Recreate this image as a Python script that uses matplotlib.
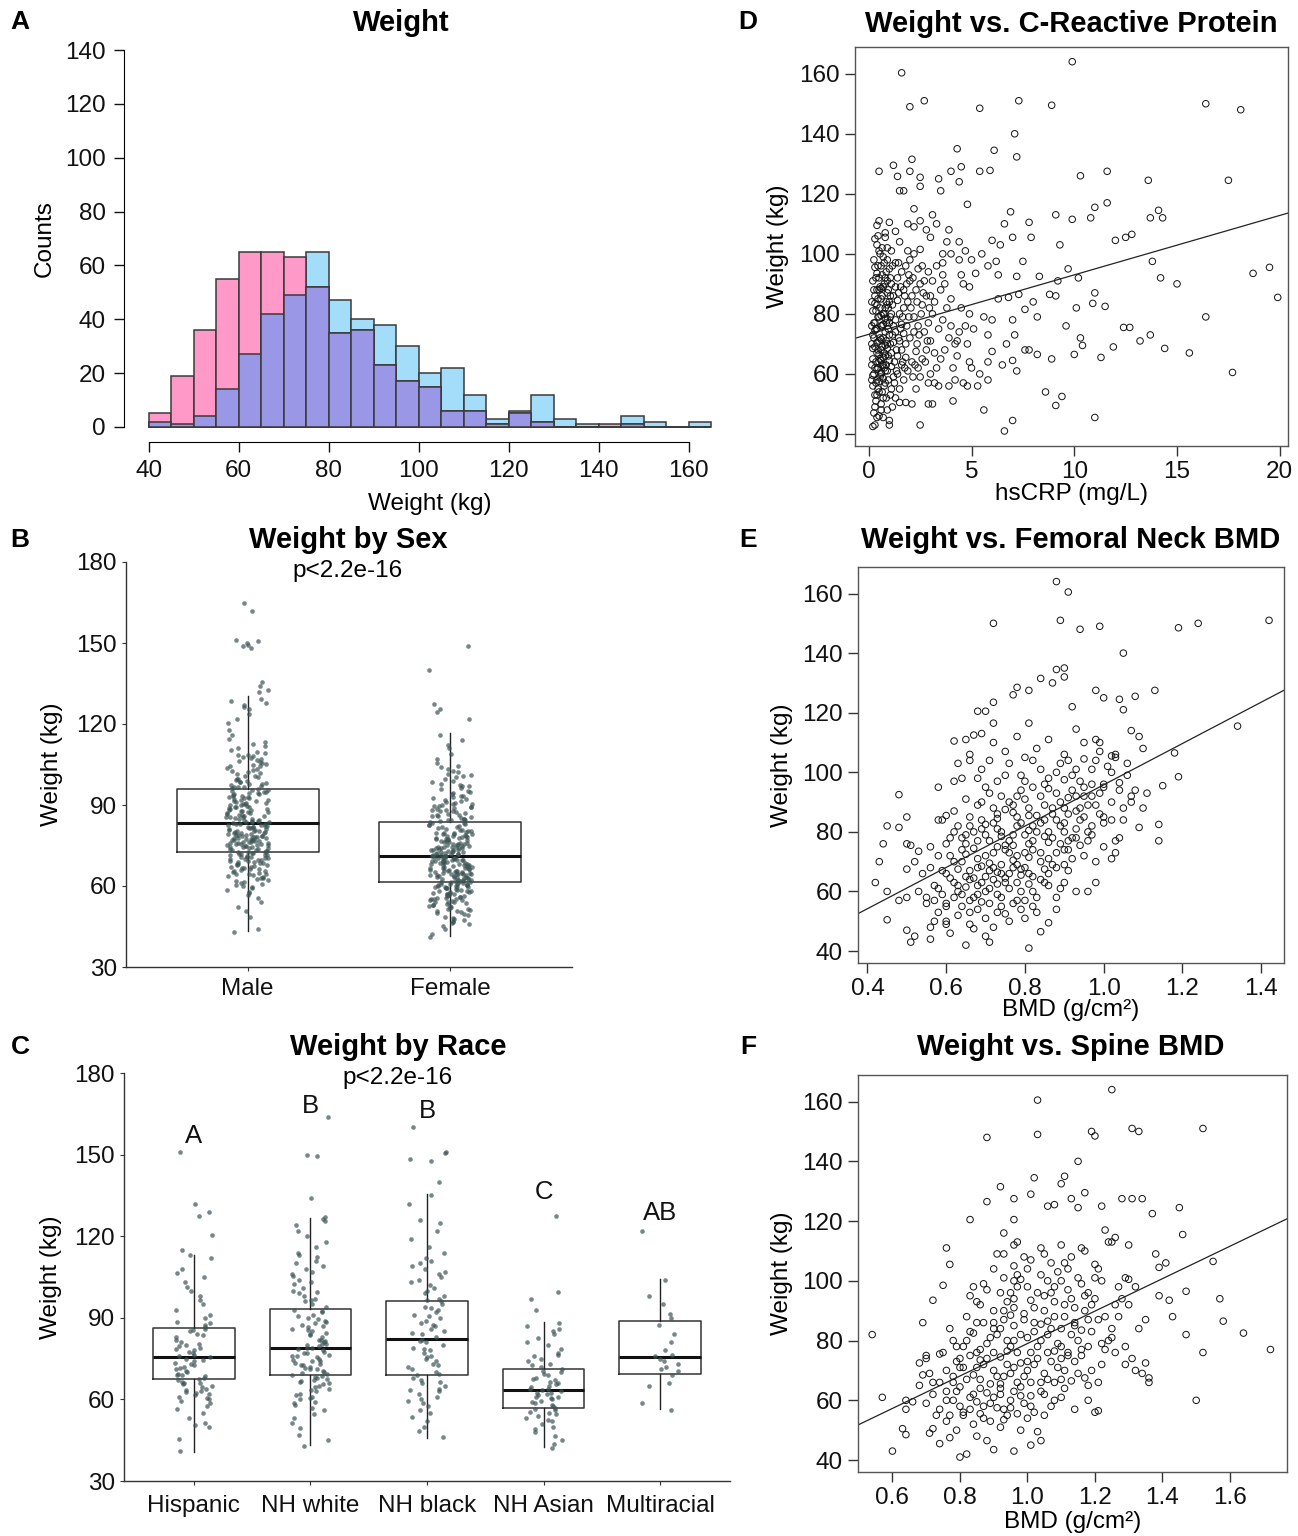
import numpy as np
import matplotlib
matplotlib.use("Agg")
import matplotlib.pyplot as plt

plt.rcParams['font.family'] = ['Liberation Sans', 'DejaVu Sans']

# ---------------- DATA ----------------
hist_edges = list(range(40, 170, 5))
female_counts = [5, 19, 36, 55, 65, 65, 63, 52, 35, 36, 23, 17, 15, 6, 6, 1, 5, 2, 0, 0, 1, 1, 0, 0, 0]
male_counts = [2, 1, 4, 14, 27, 42, 49, 65, 47, 40, 38, 30, 20, 22, 12, 3, 6, 12, 3, 1, 0, 4, 2, 0, 2]

sex_labels = ['Male', 'Female']
sex_q1 = [72.6, 61.6]
sex_med = [83.5, 71.0]
sex_q3 = [96.0, 83.8]
sex_wlo = [43.3, 41.4]
sex_whi = [130.5, 116.5]

male_weight = [
    43.0, 44.1, 48.6, 50.8, 52.4, 54.1, 55.4, 56.6, 57.3, 57.9, 58.5, 59.1, 59.7,
    60.1, 60.6, 61.0, 61.5, 61.9, 62.3, 62.6, 63.0, 63.4, 63.7, 64.0, 64.3, 64.6, 64.9,
    65.2, 65.4, 65.7, 65.9, 66.2, 66.5, 66.7, 67.0, 67.2, 67.5, 67.7, 68.0, 68.2, 68.4,
    68.7, 68.9, 69.1, 69.3, 69.5, 69.7, 69.9,
    70.1, 70.3, 70.5, 70.7, 70.9, 71.1, 71.3, 71.5, 71.7, 71.9, 72.1, 72.3, 72.5, 72.7,
    72.9, 73.1, 73.3, 73.5, 73.7, 73.9, 74.1, 74.3, 74.5, 74.7, 74.9,
    75.1, 75.2, 75.4, 75.5, 75.7, 75.8, 76.0, 76.1, 76.3, 76.4, 76.6, 76.7, 76.9, 77.0,
    77.2, 77.3, 77.5, 77.6, 77.8, 77.9, 78.1, 78.2, 78.4, 78.5, 78.7, 78.8, 79.0, 79.1,
    79.3, 79.5, 79.7, 79.9,
    80.1, 80.3, 80.5, 80.7, 80.9, 81.1, 81.3, 81.5, 81.7, 81.9, 82.1, 82.3, 82.5, 82.7,
    82.9, 83.1, 83.4, 83.6, 83.8, 84.0, 84.2, 84.5, 84.7, 84.9,
    85.1, 85.4, 85.6, 85.9, 86.1, 86.4, 86.6, 86.9, 87.1, 87.4, 87.6, 87.9, 88.1, 88.4,
    88.6, 88.9, 89.1, 89.4, 89.6, 89.9,
    90.1, 90.4, 90.7, 90.9, 91.2, 91.5, 91.7, 92.0, 92.3, 92.6, 92.9, 93.1, 93.4, 93.7,
    93.9, 94.2, 94.5, 94.7, 94.9,
    95.2, 95.5, 95.8, 96.2, 96.5, 96.8, 97.2, 97.5, 97.8, 98.2, 98.5, 98.8, 99.2, 99.5, 99.8,
    100.3, 100.8, 101.3, 101.8, 102.3, 102.8, 103.3, 103.8, 104.3, 104.8,
    105.2, 105.6, 106.1, 106.5, 106.9, 107.4, 107.8, 108.2, 108.7, 109.1, 109.6,
    110.4, 111.2, 111.9, 112.7, 113.5, 114.3, 116.0, 117.8, 120.5, 121.8, 123.6,
    125.5, 126.3, 127.0, 127.8, 128.6, 129.4, 131.8, 132.6, 134.0, 135.5,
    148.0, 148.8, 149.4, 149.9, 150.6, 151.2, 161.8, 165.0,
    60.4, 62.8, 64.4, 66.3, 67.8, 69.0, 70.6, 71.6, 72.6, 73.6, 74.6, 75.3, 76.2, 77.1,
    78.0, 78.9, 79.6, 80.4, 81.2, 82.0, 82.8, 83.7, 84.6, 85.5, 86.3, 87.3, 88.3, 89.3,
    90.5, 91.4, 92.5, 93.5, 94.4, 95.7, 96.7, 97.7, 98.7, 100.6, 102.6, 104.6, 106.3, 108.5,
]

female_weight = [
    41.0, 42.3, 44.0,
    45.3, 45.8, 46.3, 46.8, 47.2, 47.7, 48.2, 48.6, 49.1, 49.6,
    50.1, 50.4, 50.7, 51.0, 51.3, 51.6, 51.9, 52.2, 52.5, 52.8, 53.1, 53.4, 53.7, 54.0,
    54.2, 54.5, 54.7, 54.9,
    55.1, 55.3, 55.5, 55.7, 55.9, 56.1, 56.3, 56.5, 56.7, 56.9, 57.1, 57.3, 57.5, 57.7,
    57.9, 58.1, 58.3, 58.5, 58.7, 58.9, 59.1, 59.3, 59.5, 59.6, 59.7, 59.8, 59.9,
    60.1, 60.2, 60.4, 60.5, 60.7, 60.8, 61.0, 61.2, 61.4, 61.5, 61.7, 61.9, 62.0, 62.2,
    62.4, 62.5, 62.7, 62.9, 63.0, 63.2, 63.4, 63.5, 63.7, 63.9, 64.0, 64.2, 64.3, 64.4,
    64.5, 64.6, 64.7, 64.8, 64.9,
    65.1, 65.2, 65.4, 65.5, 65.7, 65.8, 66.0, 66.2, 66.4, 66.5, 66.7, 66.9, 67.0, 67.2,
    67.4, 67.5, 67.7, 67.9, 68.0, 68.2, 68.4, 68.5, 68.7, 68.9, 69.0, 69.2, 69.3, 69.4,
    69.5, 69.6, 69.7, 69.8, 69.9,
    70.1, 70.2, 70.4, 70.5, 70.7, 70.8, 71.0, 71.2, 71.4, 71.5, 71.7, 71.9, 72.0, 72.2,
    72.4, 72.5, 72.7, 72.9, 73.0, 73.2, 73.4, 73.5, 73.7, 73.9, 74.0, 74.2, 74.3, 74.4,
    74.5, 74.6, 74.7, 74.9,
    75.1, 75.3, 75.5, 75.7, 75.9, 76.1, 76.3, 76.5, 76.7, 76.9, 77.1, 77.3, 77.5, 77.7,
    77.9, 78.1, 78.3, 78.5, 78.7, 78.9, 79.1, 79.3, 79.5, 79.7, 79.8, 79.9,
    80.2, 80.5, 80.8, 81.1, 81.4, 81.7, 82.0, 82.3, 82.6, 82.9, 83.2, 83.5, 83.8, 84.1,
    84.3, 84.5, 84.7, 84.9,
    85.2, 85.5, 85.8, 86.1, 86.4, 86.7, 87.0, 87.3, 87.6, 87.9, 88.2, 88.5, 88.8, 89.1,
    89.3, 89.5, 89.7, 89.9,
    90.3, 90.7, 91.1, 91.5, 91.9, 92.3, 92.7, 93.1, 93.5, 93.9, 94.3, 94.7,
    95.3, 95.8, 96.4, 96.9, 97.4, 97.9, 98.5, 99.0, 99.6,
    100.3, 100.9, 101.5, 102.1, 102.7, 103.3, 103.9, 104.5,
    105.6, 107.2, 108.9, 111.0, 112.4, 114.2, 116.0,
    122.0, 124.6, 125.4, 127.5, 140.0, 149.0,
    47.5, 50.9, 52.6, 53.9, 55.2, 56.2, 57.2, 58.2, 59.2, 60.3, 60.9, 61.6, 62.3, 63.1,
    63.8, 64.6, 65.3, 66.1, 66.8, 67.6, 68.3, 69.1, 70.3, 71.1, 71.8, 72.6, 73.3, 74.1,
    75.4, 76.4, 77.4, 78.4, 79.4, 80.7, 82.5, 84.4, 86.2, 88.0, 90.5, 93.3, 97.2, 101.2,
]

race_labels = ['Hispanic', 'NH white', 'NH black', 'NH Asian', 'Multiracial']
race_q1 = [67.4, 69.1, 69.1, 57.0, 69.4]
race_med = [75.6, 79.0, 82.2, 63.4, 75.7]
race_q3 = [86.2, 93.4, 96.0, 71.2, 88.8]
race_wlo = [40.8, 43.2, 45.9, 42.5, 56.3]
race_whi = [113.2, 126.8, 135.4, 88.4, 104.2]
race_letters = ['A', 'B', 'B', 'C', 'AB']
race_letter_y = [156.8, 167.8, 166.0, 136.4, 128.5]

hispanic_weight = [
    41.0, 45.5, 50.0, 50.5, 51.5, 53.0, 55.0, 56.5, 57.5, 58.5, 59.5, 60.0, 61.0, 61.5,
    62.0, 62.5, 63.0, 64.0, 64.5, 65.0, 65.5, 66.0, 66.5, 67.0, 67.5, 68.0, 68.5, 69.0,
    70.0, 70.5, 71.0, 72.0, 72.5, 73.0, 74.0, 74.5, 75.0, 75.5, 76.0, 77.0, 77.5, 78.0,
    79.0, 79.5, 80.0, 81.0, 82.0, 83.0, 84.0, 85.0, 86.0, 86.5, 87.5, 88.5, 90.0, 91.0,
    93.0, 95.0, 96.5, 98.0, 100.0, 101.5, 103.0, 105.0, 106.5, 108.0, 112.0, 113.0,
    115.0, 120.5, 127.5, 129.0, 132.0, 151.0,
    60.5, 63.5, 66.2, 68.8, 71.5, 73.5, 76.5, 78.5, 80.5, 83.5, 85.5, 88.0, 62.8, 69.5,
]
nhwhite_weight = [
    43.0, 45.0, 47.0, 49.5, 51.5, 53.0, 54.5, 56.0, 57.0, 58.0, 59.0, 60.0, 60.5, 61.5,
    62.0, 63.0, 63.5, 64.0, 65.0, 65.5, 66.0, 66.5, 67.0, 67.5, 68.0, 68.5, 69.0, 69.5,
    70.0, 70.5, 71.0, 71.5, 72.0, 72.5, 73.0, 73.5, 74.0, 74.5, 75.0, 75.5, 76.0, 76.5,
    77.0, 77.5, 78.0, 78.5, 79.0, 79.5, 80.0, 80.5, 81.0, 81.5, 82.0, 83.0, 83.5, 84.0,
    85.0, 85.5, 86.0, 87.0, 87.5, 88.0, 89.0, 89.5, 90.0, 91.0, 92.0, 93.0, 94.0, 95.0,
    96.0, 97.0, 98.0, 99.0, 100.0, 101.0, 102.5, 104.0, 105.5, 107.0, 108.0, 110.0,
    111.0, 112.5, 114.0, 116.0, 118.0, 120.0, 122.0, 124.0, 125.5, 126.5, 127.0,
    134.0, 149.5, 150.0, 164.0,
    58.5, 61.0, 64.5, 66.8, 68.2, 69.8, 71.2, 72.8, 74.2, 75.8, 77.2, 78.8, 80.2, 81.8,
    84.5, 86.5, 88.5, 90.5, 92.5, 96.5, 99.5, 103.0, 106.0, 109.0, 113.0,
]
nhblack_weight = [
    46.0, 48.5, 50.0, 52.0, 53.5, 55.0, 56.0, 57.5, 58.5, 60.0, 61.0, 62.0, 63.0, 64.0,
    65.0, 66.0, 67.0, 68.0, 69.0, 70.0, 71.0, 72.0, 73.0, 74.0, 75.0, 76.0, 77.0, 78.0,
    79.0, 80.0, 81.0, 82.0, 83.0, 84.0, 85.0, 86.0, 87.0, 88.0, 89.0, 90.0, 91.0, 92.0,
    93.0, 94.0, 95.0, 96.0, 97.0, 98.0, 100.0, 101.0, 103.0, 104.0, 106.0, 107.0, 109.0,
    110.0, 112.0, 114.0, 116.0, 119.0, 122.0, 125.0, 126.0, 132.0, 135.0, 140.0, 147.5,
    148.5, 150.5, 151.0, 160.0,
    59.5, 63.5, 66.5, 69.5, 72.5, 75.5, 78.5, 81.5, 84.5, 87.5, 90.5, 93.5, 96.5, 99.0,
    102.0, 105.0, 108.0, 111.0,
]
nhasian_weight = [
    42.0, 43.5, 45.0, 46.5, 48.0, 49.0, 50.0, 51.0, 52.0, 53.0, 54.0, 54.5, 55.0, 56.0,
    56.5, 57.0, 57.5, 58.0, 59.0, 59.5, 60.0, 60.5, 61.0, 61.5, 62.0, 62.5, 63.0, 63.5,
    64.0, 64.5, 65.0, 66.0, 66.5, 67.0, 68.0, 69.0, 70.0, 70.5, 71.0, 72.0, 73.0, 74.0,
    75.0, 76.0, 77.0, 78.5, 80.0, 81.0, 82.5, 84.0, 85.0, 86.0, 87.0, 88.0, 93.0, 97.0,
    99.5, 127.5,
    52.5, 55.5, 58.5, 60.8, 62.2, 63.8, 65.5, 67.5, 69.5, 72.5, 76.5,
]
multiracial_weight = [
    56.0, 58.5, 65.0, 66.0, 69.0, 70.5, 71.0, 72.0, 73.0, 74.0, 75.0, 76.0, 76.5, 78.0,
    81.0, 84.0, 87.5, 90.0, 91.5, 95.0, 98.0, 104.0, 122.0,
]

crp_weight = [
    (1.6, 160.3), (9.9, 164.0), (2.0, 149.0), (2.7, 151.0), (5.4, 148.5), (7.3, 151.0),
    (8.9, 149.5), (16.4, 150.0), (18.1, 148.0), (7.1, 140.0), (7.2, 132.3), (4.3, 135.0),
    (2.1, 131.5), (6.1, 134.5), (1.2, 129.5), (0.5, 127.5), (1.4, 125.8), (2.0, 127.5),
    (2.5, 125.5), (3.4, 125.0), (4.0, 127.5), (4.5, 129.0), (5.4, 127.5), (5.9, 127.8),
    (10.3, 126.0), (11.6, 127.5), (13.6, 124.5), (17.5, 124.5), (1.5, 121.0), (1.7, 121.0),
    (2.5, 122.5), (3.5, 121.0), (4.4, 124.0), (4.8, 116.5), (6.9, 114.0), (9.1, 113.0),
    (9.9, 111.5), (10.8, 112.0), (11.0, 115.5), (11.6, 117.0), (13.7, 112.0), (14.1, 114.5),
    (14.3, 112.0), (12.0, 104.5), (12.5, 105.5), (12.8, 106.5), (13.8, 97.5), (14.2, 92.0),
    (15.0, 90.0), (18.7, 93.5), (19.5, 95.5), (19.9, 85.5), (16.4, 79.0), (17.7, 60.5),
    (15.6, 67.0), (14.4, 68.5), (13.7, 73.0), (13.2, 71.0), (12.7, 75.5), (12.4, 75.5),
    (11.9, 69.0), (11.3, 65.5), (11.5, 82.5), (11.0, 87.0), (10.9, 83.5), (10.1, 82.0),
    (10.2, 92.0), (9.7, 95.0), (9.3, 103.0), (9.2, 91.0), (9.6, 76.0), (10.4, 69.5),
    (10.0, 66.5), (10.3, 72.0), (9.1, 86.0), (8.8, 86.5), (8.9, 65.0), (8.6, 54.0),
    (9.1, 49.5), (9.4, 52.5), (11.0, 45.5), (7.0, 44.5), (6.6, 41.0), (5.6, 48.0),
    (2.5, 43.0), (8.2, 79.0), (8.3, 92.5), (7.9, 105.5), (7.8, 110.5), (7.5, 97.5),
    (7.0, 105.5), (6.6, 110.0), (7.2, 92.5), (7.6, 81.5), (8.0, 84.0), (7.0, 78.0),
    (7.3, 86.5), (7.1, 73.0), (6.8, 85.5), (6.7, 70.0), (6.5, 63.0), (7.0, 64.5),
    (7.2, 61.0), (7.6, 68.0), (7.8, 68.0), (8.2, 66.5), (6.0, 67.5), (5.8, 64.0),
    (5.8, 58.0), (5.3, 56.0), (5.4, 60.0), (5.8, 73.0), (6.0, 78.0), (5.6, 79.0),
    (6.3, 85.0), (6.2, 97.5), (6.4, 103.0), (6.0, 104.5), (5.5, 100.0), (5.8, 96.0),
    (6.3, 93.0), (5.2, 93.5), (5.1, 75.0), (4.8, 56.0), (4.6, 57.0), (4.1, 51.0),
    (4.1, 62.0), (4.9, 64.0), (4.3, 71.0), (4.7, 76.0), (4.9, 80.0), (4.6, 90.0),
    (4.9, 89.0), (4.7, 101.0), (4.4, 104.0), (4.0, 100.0), (3.9, 108.0), (3.6, 97.0),
    (3.3, 96.0), (3.6, 93.0), (3.0, 105.5), (3.3, 110.0), (3.1, 113.0), (2.8, 108.0),
    (2.5, 111.0), (2.2, 109.0), (1.9, 110.0), (2.2, 115.0), (1.3, 107.5), (0.5, 111.0),
    (0.4, 109.5), (0.3, 105.0), (0.8, 107.0), (1.0, 110.5), (0.9, 102.0), (1.5, 104.0),
    (0.2, 42.5), (0.3, 43.0), (0.5, 46.0), (0.4, 45.5), (0.3, 49.0), (0.6, 50.0),
    (0.9, 48.0), (1.0, 43.0), (1.0, 44.5), (0.7, 52.0), (0.5, 54.0), (0.2, 56.0),
    (0.8, 57.0), (1.1, 55.0), (0.4, 58.0), (0.6, 60.0), (0.9, 61.0), (0.3, 62.0),
    (1.2, 59.0), (0.7, 63.0), (0.5, 64.0), (0.2, 65.0), (0.8, 66.0), (1.0, 64.5),
    (0.4, 67.0), (0.6, 68.0), (1.1, 67.0), (0.3, 69.0), (0.9, 70.0), (0.5, 71.0),
    (0.7, 72.0), (0.2, 73.0), (1.0, 73.0), (0.8, 74.0), (0.4, 75.0), (0.6, 76.0),
    (1.2, 76.0), (0.3, 77.0), (0.9, 78.0), (0.5, 79.0), (0.7, 80.0), (1.1, 80.0),
    (0.2, 81.0), (0.8, 82.0), (0.4, 83.0), (1.0, 84.0), (0.6, 85.0), (0.3, 86.0),
    (0.9, 87.0), (0.5, 88.0), (0.7, 89.0), (1.1, 90.0), (0.2, 91.0), (0.8, 92.0),
    (0.4, 93.5), (1.0, 95.0), (0.6, 96.0), (0.3, 95.5), (0.9, 98.0), (0.5, 101.0),
    (0.7, 99.0), (0.4, 103.0), (0.8, 105.5), (0.6, 60.5), (0.4, 61.5), (0.7, 65.5),
    (0.5, 66.5), (0.9, 68.5), (0.3, 74.5), (0.6, 71.5), (1.0, 77.0), (0.8, 61.0),
    (0.5, 57.5), (0.7, 58.5), (0.3, 53.0), (1.1, 62.5), (0.9, 83.0), (0.6, 88.5),
    (1.2, 86.0), (0.8, 69.5), (0.2, 59.5), (0.4, 70.5), (0.6, 79.5), (0.3, 83.5),
    (0.5, 92.0), (0.7, 76.5), (0.2, 68.5), (0.4, 88.0), (0.6, 64.5), (0.8, 78.5),
    (1.3, 52.0), (1.5, 55.0), (1.7, 58.0), (1.9, 61.0), (2.1, 64.0), (1.4, 66.0),
    (1.6, 68.0), (1.8, 70.0), (2.0, 72.0), (2.2, 74.0), (2.4, 76.0), (1.3, 78.0),
    (1.5, 80.0), (1.7, 82.0), (1.9, 84.0), (2.1, 86.0), (2.3, 88.0), (2.5, 90.0),
    (1.4, 92.0), (1.6, 94.0), (1.8, 96.0), (2.0, 98.0), (2.2, 100.0), (2.4, 62.0),
    (2.6, 65.0), (2.8, 68.0), (3.0, 71.0), (2.7, 74.0), (2.9, 77.0), (3.1, 80.0),
    (2.6, 83.0), (2.8, 86.0), (3.0, 60.0), (3.2, 57.0), (2.3, 55.0), (2.5, 59.0),
    (2.7, 91.0), (2.9, 94.0), (3.1, 50.0), (1.5, 50.5), (1.8, 50.5), (2.1, 50.0),
    (2.9, 50.0), (1.2, 70.5), (1.3, 74.0), (1.6, 76.5), (2.2, 79.0), (1.4, 84.5),
    (1.7, 88.0), (2.0, 91.0), (2.4, 95.0), (1.3, 97.0), (1.9, 101.0), (2.5, 101.5),
    (2.3, 67.5), (1.4, 60.0), (1.6, 63.0), (1.8, 65.5), (1.5, 71.0), (1.7, 73.5),
    (3.3, 62.0), (3.5, 65.0), (3.7, 68.0), (3.9, 72.0), (3.4, 75.0), (3.6, 78.0),
    (3.8, 82.0), (4.0, 85.0), (3.5, 88.0), (3.7, 90.0), (4.2, 70.0), (4.4, 74.0),
    (3.4, 56.0), (4.2, 58.0), (3.9, 56.0), (4.5, 82.0), (4.3, 66.0), (3.6, 100.0),
    (3.2, 84.0), (3.0, 86.0), (2.9, 57.0), (3.2, 67.0), (4.0, 76.0), (4.8, 70.0),
    (5.0, 62.0), (4.5, 93.0), (5.0, 98.0), (4.4, 98.0), (3.8, 104.0), (3.1, 91.0),
    (0.25, 47.0), (0.35, 51.0), (0.45, 55.0), (0.55, 59.0), (0.65, 63.0), (0.75, 67.0),
    (0.85, 71.0), (0.95, 75.0), (1.05, 79.0), (1.15, 83.0), (0.25, 60.0), (0.35, 64.0),
    (0.45, 68.0), (0.55, 72.0), (0.65, 76.0), (0.75, 80.0), (0.85, 84.0), (0.95, 88.0),
    (1.05, 92.0), (1.15, 96.0), (0.25, 77.0), (0.35, 81.0), (0.45, 85.0), (0.55, 89.0),
    (0.65, 93.0), (0.75, 97.0), (0.85, 63.0), (0.95, 58.0), (1.05, 53.0), (1.15, 49.0),
    (0.25, 88.0), (0.35, 92.0), (0.45, 96.0), (0.55, 100.0), (0.65, 54.0), (0.75, 56.0),
    (0.85, 52.0), (0.95, 66.0), (1.05, 70.0), (1.15, 73.0), (0.15, 63.0), (0.15, 70.0),
    (0.15, 76.0), (0.15, 84.0), (0.15, 58.0), (0.35, 57.0), (0.45, 62.0), (0.55, 65.0),
    (0.65, 69.0), (0.75, 62.0), (0.85, 77.0), (0.95, 82.0), (1.05, 86.0), (0.25, 72.0),
    (0.35, 75.0), (0.45, 79.0), (0.55, 82.0), (0.65, 86.0), (0.75, 90.0), (0.85, 94.0),
    (0.25, 98.0), (0.45, 106.0), (0.65, 102.0), (1.25, 64.0), (1.35, 68.0), (1.45, 72.0),
    (1.55, 75.0), (1.65, 79.0), (1.75, 86.0), (1.85, 90.0), (1.95, 93.0), (1.25, 57.0),
    (1.35, 61.0), (1.45, 87.0), (1.55, 89.0), (1.65, 64.0), (1.75, 62.0), (1.85, 76.0),
    (1.95, 79.0), (2.05, 82.0), (2.15, 59.0), (2.25, 63.0), (2.35, 70.0), (2.45, 73.0),
    (2.55, 80.0), (2.65, 87.0), (2.75, 64.0), (2.85, 71.0), (2.95, 82.0), (2.15, 92.0),
    (2.35, 84.0), (2.60, 96.0), (1.45, 97.0), (1.30, 89.0), (1.10, 101.0), (0.90, 91.0),
    (0.70, 45.5), (0.40, 53.0), (0.60, 48.0),
]
crp_fit = (73.2, 1.98)          # intercept, slope

fn_weight = [
    (0.88, 164.0), (0.91, 160.5), (0.72, 150.0), (0.89, 151.0), (0.94, 148.0), (0.99, 149.0),
    (1.19, 148.5), (1.24, 150.0), (1.42, 151.0), (1.05, 140.0), (0.90, 135.0), (0.88, 134.5),
    (0.90, 132.0), (0.84, 131.5), (0.78, 128.5), (0.87, 130.0), (0.81, 127.5), (0.77, 126.0),
    (0.72, 123.5), (0.98, 127.5), (1.13, 127.5), (1.08, 125.5), (1.00, 125.0), (1.04, 124.5),
    (0.92, 122.0), (0.68, 120.5), (0.70, 120.5), (1.05, 121.0), (0.72, 116.5), (0.81, 116.5),
    (1.34, 115.5), (1.07, 114.0), (1.09, 112.0), (0.93, 114.5), (1.18, 106.5), (1.19, 98.5),
    (1.15, 95.5), (1.14, 82.5), (1.14, 77.0), (1.11, 93.0), (1.10, 88.0), (1.09, 81.5),
    (1.10, 108.0), (0.93, 60.0), (0.96, 60.0), (0.86, 49.5), (0.84, 46.5), (0.81, 41.0),
    (0.71, 43.0), (0.65, 42.0), (0.70, 45.0), (0.56, 44.0), (0.51, 43.0), (0.52, 45.0),
    (0.50, 47.0), (0.45, 50.5), (0.42, 63.0), (0.43, 70.0), (0.44, 76.0), (0.45, 82.0),
    (0.48, 81.5), (0.48, 92.5), (0.50, 85.0), (0.50, 76.0), (0.51, 75.5), (0.53, 73.5),
    (0.52, 70.0), (0.50, 67.5), (0.50, 58.0), (0.48, 57.0), (0.45, 60.0), (0.58, 95.0),
    (0.62, 110.5), (0.65, 111.0),
    (1.00, 95.0), (1.02, 100.0), (1.05, 88.0), (1.04, 78.0), (1.03, 73.0), (1.02, 71.0),
    (1.00, 75.0), (1.00, 85.0), (0.98, 89.0), (0.97, 96.0), (1.06, 103.0), (1.08, 94.0),
    (1.07, 90.0), (1.05, 84.0), (1.04, 96.5), (0.99, 110.0), (0.98, 111.0), (1.03, 106.0),
    (0.95, 104.5), (0.96, 80.0), (0.93, 87.0), (0.92, 99.0), (0.95, 92.0), (0.97, 82.0),
    (0.98, 63.0), (0.90, 63.0), (0.91, 67.0),
    (0.55, 56.0), (0.57, 62.0), (0.54, 66.0), (0.56, 75.0), (0.59, 84.0), (0.60, 85.5),
    (0.62, 97.0), (0.63, 103.0), (0.66, 104.0), (0.67, 112.5), (0.69, 113.0), (0.68, 98.0),
    (0.53, 60.0), (0.57, 50.0), (0.60, 49.0),
    (0.56, 48.0), (0.60, 50.0), (0.63, 52.0), (0.66, 49.0), (0.68, 54.0), (0.70, 51.0),
    (0.73, 53.0), (0.76, 50.0), (0.79, 54.0), (0.58, 53.0), (0.64, 55.0), (0.72, 48.0),
    (0.82, 55.0), (0.61, 46.0), (0.67, 47.5), (0.75, 52.5),
    (0.55, 58.0), (0.58, 61.0), (0.60, 56.0), (0.62, 63.0), (0.64, 59.0), (0.66, 57.0),
    (0.68, 62.0), (0.70, 60.0), (0.72, 64.0), (0.74, 58.0), (0.76, 61.0), (0.78, 63.0),
    (0.80, 57.0), (0.82, 60.0), (0.84, 64.0), (0.86, 62.0), (0.61, 64.5), (0.65, 61.5),
    (0.69, 56.5), (0.73, 62.5), (0.77, 56.0), (0.81, 62.5), (0.88, 58.0), (0.59, 59.0),
    (0.56, 68.0), (0.58, 72.0), (0.60, 66.0), (0.62, 70.0), (0.64, 74.0), (0.66, 67.0),
    (0.68, 71.0), (0.70, 65.0), (0.72, 73.0), (0.74, 69.0), (0.76, 66.0), (0.78, 72.0),
    (0.80, 68.0), (0.82, 74.0), (0.84, 70.0), (0.86, 66.0), (0.88, 73.0), (0.90, 69.0),
    (0.92, 71.0), (0.65, 72.5), (0.69, 68.5), (0.73, 66.5), (0.77, 70.5), (0.81, 71.5),
    (0.85, 67.5), (0.67, 74.5), (0.71, 69.5), (0.75, 74.0), (0.79, 65.5), (0.95, 72.0),
    (0.63, 67.5), (0.98, 70.0),
    (0.58, 84.0), (0.61, 78.0), (0.63, 82.0), (0.65, 76.0), (0.67, 80.0), (0.69, 84.0),
    (0.71, 77.0), (0.73, 81.0), (0.75, 75.5), (0.77, 79.0), (0.79, 83.0), (0.81, 76.0),
    (0.83, 80.0), (0.85, 84.0), (0.87, 78.0), (0.89, 82.0), (0.91, 77.0), (0.93, 81.0),
    (0.95, 85.0), (0.97, 79.0), (1.00, 83.0), (1.03, 77.0), (0.70, 82.5), (0.74, 78.5),
    (0.78, 85.0), (0.82, 82.0), (0.86, 76.5), (0.90, 80.0), (0.66, 85.0), (0.94, 75.5),
    (1.02, 84.0),
    (0.62, 87.0), (0.65, 91.0), (0.68, 89.0), (0.71, 93.0), (0.73, 86.0), (0.76, 90.0),
    (0.79, 94.0), (0.81, 88.0), (0.84, 92.0), (0.87, 86.0), (0.89, 90.0), (0.92, 94.0),
    (0.94, 88.0), (0.97, 92.0), (0.99, 86.0), (1.02, 90.0), (1.04, 94.0), (0.75, 87.5),
    (0.83, 85.5), (0.91, 91.5), (0.86, 94.5), (0.78, 92.0), (1.07, 92.0),
    (0.64, 98.0), (0.69, 101.0), (0.73, 97.0), (0.76, 103.0), (0.79, 99.0), (0.82, 104.0),
    (0.85, 96.0), (0.88, 100.0), (0.91, 104.0), (0.94, 97.0), (0.97, 101.0), (1.00, 96.0),
    (1.03, 105.0), (1.06, 99.0), (0.71, 104.0), (0.84, 101.0), (0.90, 97.5), (1.01, 102.0),
    (0.66, 106.0), (0.72, 110.0), (0.75, 107.0), (0.78, 112.0), (0.83, 108.0), (0.86, 111.0),
    (0.90, 106.0), (0.95, 110.0), (0.99, 107.0), (1.02, 105.5), (0.80, 105.0),
    (0.57, 57.0), (0.59, 67.0), (0.61, 72.0), (0.63, 60.0), (0.65, 65.0), (0.67, 58.0),
    (0.69, 63.0), (0.71, 67.0), (0.73, 59.0), (0.75, 63.0), (0.77, 68.0), (0.79, 60.0),
    (0.81, 66.0), (0.83, 58.0), (0.85, 63.0), (0.87, 69.0), (0.89, 61.0), (0.91, 74.0),
    (0.93, 78.0), (0.60, 76.0), (0.62, 80.0), (0.64, 78.0), (0.66, 82.0), (0.68, 77.0),
    (0.70, 79.0), (0.72, 83.0), (0.74, 80.0), (0.76, 77.0), (0.78, 82.0), (0.80, 79.0),
    (0.82, 77.0), (0.84, 83.0), (0.86, 80.0), (0.88, 84.0), (0.90, 83.0), (0.92, 78.0),
    (0.94, 84.0), (0.96, 77.0), (0.64, 70.0), (0.66, 64.0), (0.68, 68.0), (0.70, 72.0),
    (0.72, 68.0), (0.74, 66.0), (0.76, 73.0), (0.78, 69.0), (0.80, 73.0), (0.82, 65.0),
    (0.84, 73.0), (0.86, 71.0), (0.88, 68.0), (0.90, 74.0), (0.69, 90.0), (0.72, 88.0),
    (0.74, 92.0), (0.77, 89.0), (0.80, 91.0), (0.82, 95.0), (0.85, 89.0), (0.88, 93.0),
    (0.90, 88.0), (0.93, 92.0), (0.96, 89.0), (0.99, 93.0), (0.70, 95.0), (0.75, 99.0),
    (0.80, 97.0), (0.86, 98.0), (0.89, 103.0), (0.93, 101.0), (0.98, 104.0), (0.60, 55.0),
    (0.62, 58.0), (0.66, 53.0), (0.68, 59.0), (0.71, 56.0), (0.74, 55.0), (0.78, 57.0),
    (0.80, 51.0), (0.83, 53.0), (0.88, 54.0), (0.63, 62.0), (0.67, 64.5), (0.71, 61.0),
    (0.75, 64.5), (0.79, 67.5), (0.73, 75.0), (0.77, 75.5), (0.81, 80.5), (0.85, 78.5),
    (0.89, 76.0), (0.65, 79.0), (0.69, 81.0), (0.73, 84.5), (0.77, 86.5), (0.81, 85.5),
    (0.87, 88.0), (0.91, 86.0), (0.95, 95.0),
]
fn_fit = (26.5, 69.3)

spine_weight = [
    (1.25, 164.0), (1.03, 160.5), (0.88, 148.0), (1.03, 149.0), (1.19, 150.0), (1.20, 148.5),
    (1.31, 151.0), (1.33, 150.0), (1.52, 151.0), (1.15, 140.0), (1.02, 134.5), (1.11, 135.0),
    (0.92, 131.5), (1.10, 132.5), (1.17, 129.5), (1.01, 129.0), (1.13, 127.5), (1.28, 127.5),
    (1.31, 127.5), (1.34, 127.5), (0.96, 127.5), (0.88, 126.5), (1.06, 125.0), (1.08, 125.5),
    (1.15, 124.5), (1.22, 125.0), (1.45, 124.5), (0.83, 120.5), (0.96, 120.5), (1.37, 122.5),
    (1.46, 115.5), (1.55, 106.5), (1.57, 94.0), (1.58, 86.5), (1.64, 82.5), (1.72, 77.0),
    (1.52, 76.0), (1.50, 60.0), (1.47, 82.0), (1.47, 96.5), (1.43, 88.0), (1.42, 93.5),
    (1.39, 95.0), (1.41, 106.0), (1.38, 109.0), (1.39, 104.5), (0.54, 82.0), (0.57, 61.0),
    (0.60, 43.0), (0.63, 50.5), (0.64, 48.5), (0.64, 57.0), (0.64, 60.0), (0.66, 59.5),
    (0.68, 72.5), (0.69, 68.5), (0.69, 86.0), (0.70, 75.0), (0.72, 93.5), (0.76, 111.0),
    (0.77, 105.5), (0.75, 98.5),
    (1.29, 78.0), (1.29, 72.0), (1.31, 74.0), (1.32, 70.0), (1.34, 69.0), (1.36, 66.0),
    (1.35, 72.5), (1.36, 67.5), (1.35, 87.0), (1.33, 84.0), (1.30, 92.0), (1.32, 98.0),
    (1.28, 94.0), (1.27, 88.0), (1.25, 84.0), (1.24, 80.0), (1.26, 76.0), (1.23, 77.0),
    (1.21, 66.0), (1.20, 56.0), (1.19, 70.0), (1.22, 100.0), (1.25, 113.0), (1.23, 117.0),
    (1.26, 114.5), (1.29, 101.0),
    (0.72, 62.0), (0.73, 55.0), (0.70, 59.0), (0.68, 65.0), (0.71, 69.0), (0.74, 75.5),
    (0.77, 84.0), (0.79, 78.0), (0.80, 71.0), (0.78, 66.0), (0.83, 95.0), (0.84, 98.0),
    (0.85, 93.0), (0.87, 99.0), (0.91, 109.0), (0.93, 116.0), (0.96, 112.0), (0.97, 102.0),
    (0.98, 100.5),
    (0.80, 41.0), (0.82, 42.0), (0.74, 45.5), (0.77, 47.5), (0.85, 48.0), (0.88, 46.5),
    (0.90, 43.5), (0.96, 43.0), (1.01, 45.0), (1.04, 46.5), (0.79, 50.0), (0.84, 52.0),
    (0.92, 51.0), (0.98, 50.0), (1.03, 49.5), (0.72, 50.5), (0.76, 53.0), (0.87, 54.0),
    (0.93, 53.5), (1.05, 55.0), (0.81, 55.0), (0.71, 49.0),
    (0.74, 57.0), (0.78, 60.0), (0.81, 56.0), (0.84, 62.0), (0.87, 58.0), (0.90, 61.0),
    (0.93, 57.0), (0.96, 63.0), (0.99, 59.0), (1.02, 56.0), (1.05, 62.0), (1.08, 60.0),
    (1.11, 64.0), (1.14, 57.0), (0.76, 63.0), (0.80, 64.5), (0.86, 55.5), (0.92, 64.0),
    (0.97, 55.5), (1.01, 61.5), (1.18, 60.0), (1.21, 56.5), (0.88, 62.5), (0.95, 60.0),
    (0.72, 66.0), (0.76, 70.0), (0.79, 73.0), (0.82, 67.0), (0.85, 71.0), (0.88, 74.0),
    (0.91, 68.0), (0.94, 72.0), (0.97, 66.0), (1.00, 70.0), (1.03, 74.0), (1.06, 67.0),
    (1.09, 71.0), (1.12, 75.0), (1.15, 69.0), (1.18, 65.0), (0.83, 75.0), (0.89, 65.5),
    (0.95, 69.0), (1.01, 66.0), (1.07, 73.0), (1.13, 66.5), (0.92, 74.5), (0.98, 72.5),
    (0.70, 74.0), (1.22, 72.0),
    (0.75, 76.0), (0.78, 80.0), (0.83, 83.0), (0.86, 77.0), (0.89, 81.0), (0.92, 84.0),
    (0.95, 78.0), (0.98, 82.0), (1.01, 76.0), (1.04, 80.0), (1.07, 84.0), (1.10, 78.0),
    (1.13, 82.0), (1.16, 77.0), (1.19, 83.0), (1.22, 79.0), (0.90, 76.0), (0.96, 85.0),
    (1.02, 83.0), (1.08, 76.5), (1.14, 85.0), (1.25, 81.0), (0.81, 78.0),
    (0.82, 88.0), (0.86, 92.0), (0.90, 86.0), (0.93, 90.0), (0.96, 94.0), (0.99, 87.0),
    (1.02, 91.0), (1.05, 95.0), (1.08, 88.0), (1.11, 92.0), (1.14, 86.0), (1.17, 90.0),
    (1.20, 94.0), (1.23, 88.0), (1.26, 92.0), (0.85, 86.0), (0.94, 93.0), (1.06, 86.5),
    (1.18, 87.0),
    (0.88, 97.0), (0.93, 101.0), (0.97, 98.0), (1.00, 104.0), (1.03, 96.0), (1.06, 100.0),
    (1.09, 103.0), (1.12, 97.0), (1.15, 101.0), (1.18, 96.0), (1.21, 104.0), (1.27, 98.0),
    (0.95, 96.0), (1.30, 100.5),
    (0.93, 109.0), (0.97, 113.0), (1.01, 107.0), (1.04, 111.0), (1.07, 106.0), (1.10, 112.0),
    (1.13, 108.0), (1.17, 110.0), (1.20, 105.5), (1.24, 113.0), (0.96, 105.0), (1.30, 112.0),
    (0.80, 58.0), (0.83, 61.0), (0.86, 64.0), (0.89, 59.0), (0.92, 62.0), (0.95, 57.5),
    (0.98, 61.5), (1.01, 58.0), (1.04, 63.0), (1.07, 58.0), (1.10, 61.0), (0.78, 68.0),
    (0.81, 71.0), (0.84, 68.5), (0.87, 72.0), (0.90, 70.0), (0.93, 68.0), (0.96, 71.0),
    (0.99, 68.0), (1.02, 72.0), (1.05, 69.0), (1.08, 66.0), (1.11, 70.0), (1.14, 73.0),
    (1.17, 67.5), (0.82, 80.0), (0.85, 76.0), (0.88, 79.0), (0.91, 82.0), (0.94, 80.0),
    (0.97, 76.0), (1.00, 81.0), (1.03, 78.0), (1.06, 82.0), (1.09, 79.0), (1.12, 76.0),
    (1.15, 80.0), (1.18, 78.0), (0.87, 86.0), (0.90, 90.0), (0.93, 87.0), (0.96, 91.0),
    (0.99, 89.0), (1.02, 86.0), (1.05, 90.0), (1.08, 93.0), (1.11, 88.0), (1.14, 91.0),
    (1.17, 95.0), (0.92, 96.0), (0.96, 100.0), (1.00, 98.0), (1.04, 102.0), (1.08, 98.0),
    (1.12, 104.0), (1.16, 99.0), (1.20, 101.0), (0.90, 104.0), (0.99, 108.0), (1.05, 109.0),
    (1.11, 106.0), (1.16, 111.0), (0.77, 55.0), (0.83, 57.0), (0.89, 53.0), (0.94, 55.0),
    (1.00, 54.0), (0.86, 67.0), (0.92, 65.5), (0.98, 64.5), (1.04, 66.0), (1.10, 67.0),
    (0.80, 74.0), (0.86, 73.5), (0.94, 76.5), (1.00, 73.0), (1.06, 76.0), (1.10, 74.0),
    (1.16, 75.0), (0.84, 82.5), (0.90, 84.0), (0.96, 80.0), (1.04, 85.5), (1.10, 84.0),
    (1.16, 83.5), (1.21, 87.0), (0.95, 88.5), (1.01, 93.5), (1.07, 96.0), (1.13, 94.0),
    (1.19, 92.0), (1.10, 100.0), (0.76, 60.0), (0.74, 66.0), (0.79, 63.0), (0.85, 59.5),
    (0.91, 57.5),
]
spine_fit = (24.7, 54.3)

# ---------------- FIGURE ----------------
W, H = 1298, 1536
fig = plt.figure(figsize=(W / 100, H / 100), dpi=100)


def ax_at(l, r, t, b):
    return fig.add_axes([l / W, 1 - b / H, (r - l) / W, (b - t) / H])


def ftext(x, y, s, **kw):
    fig.text(x / W, 1 - y / H, s, ha='center', va='center', **kw)


TITLE = 21
TICK = 17.5
LAB = 17.5
SUB = 17.5
DOT = '#3d5555'


def jitter(n, width, seed):
    k = np.arange(n) * 12.9898 + seed * 78.233
    h = np.sin(k) * 43758.5453
    return (h - np.floor(h) - 0.5) * 2 * width


# ---- Panel A: histogram ----
axA = ax_at(124, 736, 35, 442)
edges = np.array(hist_edges)
fc = np.array(female_counts)
mc = np.array(male_counts)
ov = np.minimum(fc, mc)
ec = '#3a3a3a'
axA.bar(edges[:-1], mc, width=5, align='edge', color='#a3ddf9', edgecolor=ec, linewidth=1.1)
axA.bar(edges[:-1], fc, width=5, align='edge', color='#ff99c8', edgecolor=ec, linewidth=1.1)
axA.bar(edges[:-1], ov, width=5, align='edge', color='#9a98e6', edgecolor=ec, linewidth=1.1)
axA.set_xlim(34.5, 170.5)
axA.set_ylim(-5.6, 145.6)
for s in ['top', 'right']:
    axA.spines[s].set_visible(False)
axA.spines['left'].set_bounds(0, 140)
axA.spines['bottom'].set_bounds(40, 160)
axA.set_yticks(range(0, 141, 20))
axA.set_xticks(range(40, 161, 20))
axA.tick_params(length=7, width=1, labelsize=TICK, pad=6, colors='#111111')
axA.set_ylabel('Counts', fontsize=LAB)
axA.yaxis.set_label_coords(-0.112, 0.5)
axA.set_xlabel('Weight (kg)', fontsize=LAB)
axA.xaxis.set_label_coords(0.5, -0.125)
ftext(401, 23, 'Weight', fontsize=TITLE, fontweight='bold')
ftext(20, 22, 'A', fontsize=19, fontweight='bold')


def box_stats(labels, q1, med, q3, lo, hi):
    return [dict(label=l, q1=a, med=m, q3=b, whislo=w0, whishi=w1, fliers=[])
            for l, a, m, b, w0, w1 in zip(labels, q1, med, q3, lo, hi)]


def style_gg(ax):
    for s in ['top', 'right']:
        ax.spines[s].set_visible(False)
    for s in ['left', 'bottom']:
        ax.spines[s].set_color('#333333')
        ax.spines[s].set_linewidth(1.0)
    ax.set_ylim(30, 180)
    ax.set_yticks(range(30, 181, 30))
    ax.tick_params(length=3, width=0.8, labelsize=TICK, colors='#333333', labelcolor='#111111')


BOXKW = dict(boxprops=dict(color='#333333', linewidth=1.1),
             whiskerprops=dict(color='#222222', linewidth=1.0),
             capprops=dict(linewidth=0),
             medianprops=dict(color='#111111', linewidth=2.2))

# ---- Panel B ----
axB = ax_at(126, 572, 562, 967)
stB = box_stats(sex_labels, sex_q1, sex_med, sex_q3, sex_wlo, sex_whi)
axB.bxp(stB, positions=[1, 2], widths=0.7, showfliers=False, **BOXKW)
for i, vals in enumerate([male_weight, female_weight]):
    v = np.array(vals)
    axB.scatter(i + 1 + jitter(len(v), 0.105, i + 1), v, s=11, color=DOT, alpha=0.7,
                linewidths=0, zorder=3)
axB.set_xlim(0.4, 2.6)
style_gg(axB)
axB.set_xticks([1, 2])
axB.set_xticklabels(sex_labels)
axB.tick_params(axis='x', pad=5)
axB.set_ylabel('Weight (kg)', fontsize=LAB)
axB.yaxis.set_label_coords(-0.142, 0.5)
ftext(348, 540, 'Weight by Sex', fontsize=TITLE, fontweight='bold')
ftext(348, 571, 'p<2.2e-16', fontsize=SUB)
ftext(20, 540, 'B', fontsize=19, fontweight='bold')

# ---- Panel C ----
axC = ax_at(124, 730, 1073, 1481)
stC = box_stats(race_labels, race_q1, race_med, race_q3, race_wlo, race_whi)
axC.bxp(stC, positions=range(1, 6), widths=0.7, showfliers=False, **BOXKW)
race_vals = [hispanic_weight, nhwhite_weight, nhblack_weight, nhasian_weight, multiracial_weight]
for i, vals in enumerate(race_vals):
    v = np.array(vals)
    axC.scatter(i + 1 + jitter(len(v), 0.16, i + 7), v, s=11, color=DOT, alpha=0.7,
                linewidths=0, zorder=3)
for i, (lt, ly) in enumerate(zip(race_letters, race_letter_y)):
    axC.text(i + 1, ly, lt, ha='center', va='center', fontsize=18.5, color='#111111')
axC.set_xlim(0.4, 5.6)
style_gg(axC)
axC.set_xticks(range(1, 6))
axC.set_xticklabels(race_labels)
axC.tick_params(axis='x', pad=7)
axC.set_ylabel('Weight (kg)', fontsize=LAB)
axC.yaxis.set_label_coords(-0.103, 0.5)
ftext(398, 1047, 'Weight by Race', fontsize=TITLE, fontweight='bold')
ftext(398, 1078, 'p<2.2e-16', fontsize=SUB)
ftext(20, 1047, 'C', fontsize=19, fontweight='bold')


# ---- Panels D, E, F ----
def scatter_panel(ax, pts, fit, xlim, xticks, xfmt, xlabel, xlab_y):
    x = np.array([p[0] for p in pts])
    y = np.array([p[1] for p in pts])
    ax.scatter(x, y, s=22, facecolors='none', edgecolors='#111111', linewidths=0.7)
    ax.axline((0, fit[0]), slope=fit[1], color='#222222', linewidth=0.9)
    ax.set_xlim(*xlim)
    ax.set_ylim(36.0, 168.9)
    ax.set_xticks(xticks)
    ax.set_xticklabels([xfmt.format(t) for t in xticks])
    ax.set_yticks(range(40, 161, 20))
    for s in ax.spines.values():
        s.set_color('#555555')
        s.set_linewidth(1.0)
    ax.tick_params(length=7, width=1, labelsize=TICK, pad=4, colors='#333333',
                   labelcolor='#111111')
    ax.set_ylabel('Weight (kg)', fontsize=LAB)
    ax.yaxis.set_label_coords(-0.152, 0.5)
    ax.set_xlabel(xlabel, fontsize=LAB)
    ax.xaxis.set_label_coords(0.5, xlab_y)


axD = ax_at(855, 1288, 47, 446)
scatter_panel(axD, crp_weight, crp_fit, (-0.67, 20.4), [0, 5, 10, 15, 20], '{:g}',
              'hsCRP (mg/L)', -0.092)
ftext(1071, 24, 'Weight vs. C-Reactive Protein', fontsize=TITLE, fontweight='bold')
ftext(748, 22, 'D', fontsize=19, fontweight='bold')

axE = ax_at(858, 1284, 567, 963)
scatter_panel(axE, fn_weight, fn_fit, (0.376, 1.458), [0.4, 0.6, 0.8, 1.0, 1.2, 1.4], '{:.1f}',
              'BMD (g/cm\u00b2)', -0.092)
ftext(1071, 540, 'Weight vs. Femoral Neck BMD', fontsize=TITLE, fontweight='bold')
ftext(748, 540, 'E', fontsize=19, fontweight='bold')

axF = ax_at(858, 1287, 1075, 1472)
scatter_panel(axF, spine_weight, spine_fit, (0.498, 1.769), [0.6, 0.8, 1.0, 1.2, 1.4, 1.6], '{:.1f}',
              'BMD (g/cm\u00b2)', -0.097)
ftext(1071, 1047, 'Weight vs. Spine BMD', fontsize=TITLE, fontweight='bold')
ftext(748, 1047, 'F', fontsize=19, fontweight='bold')

fig.savefig('out.png', dpi=100)
